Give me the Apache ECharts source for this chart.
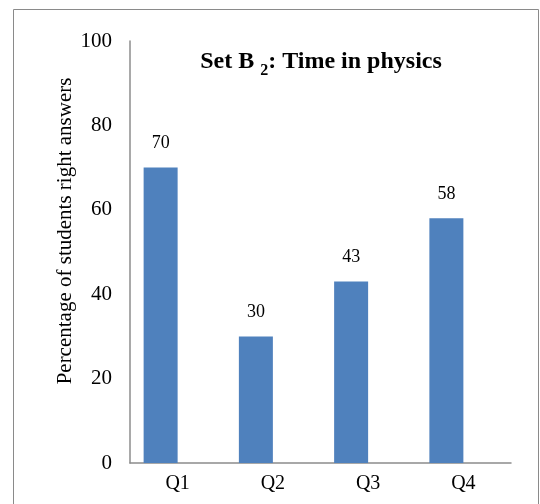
<!DOCTYPE html>
<html><head><meta charset="utf-8">
<script src="https://cdn.jsdelivr.net/npm/echarts@6/dist/echarts.min.js"></script>
<style>html,body{margin:0;padding:0;background:#fff}#c{width:540px;height:504px}</style>
</head><body><div id="c"></div>
<script>
const categories = ['Q1', 'Q2', 'Q3', 'Q4'];
const values = [70, 30, 43, 58];
const ghost = ['-', '-', '-', '-'];
const yTicks = [0, 20, 40, 60, 80, 100];
const titleMain = 'Set B ';
const titleSub = '2';
const titleRest = ': Time in physics';
const yName = 'Percentage of students right answers';

const chart = echarts.init(document.getElementById('c'), null, {renderer: 'canvas'});
const serif = '"Liberation Serif", "Times New Roman", serif';
chart.setOption({
  animation: false,
  backgroundColor: '#fff',
  graphic: [{
    type: 'rect', shape: {x: 13.5, y: 9.5, width: 525, height: 520},
    style: {fill: 'none', stroke: '#8a8a8a', lineWidth: 1}
  }],
  title: {
    text: '{a|' + titleMain + '}{s|' + titleSub + '}{a|' + titleRest + '}',
    left: 316, top: 41, textAlign: 'center',
    textStyle: {
      rich: {
        a: {fontFamily: serif, fontWeight: 'bold', fontSize: 24, color: '#000', lineHeight: 28, verticalAlign: 'bottom'},
        s: {fontFamily: serif, fontWeight: 'bold', fontSize: 16, color: '#000', lineHeight: 28, verticalAlign: 'bottom', padding: [0, 0, -5, 0]}
      }
    }
  },
  grid: {left: 130, right: 29, top: 41, bottom: 41, containLabel: false},
  xAxis: {
    type: 'category', data: categories,
    axisLine: {lineStyle: {color: '#8c8c8c', width: 1.5}},
    axisTick: {show: false},
    axisLabel: {fontFamily: serif, fontSize: 20, color: '#000', margin: 11}
  },
  yAxis: {
    type: 'value', min: 0, max: 100, interval: 20,
    name: yName, nameLocation: 'middle', nameGap: 54, nameMoveOverlap: false,
    nameTextStyle: {fontFamily: serif, fontSize: 21, color: '#000', padding: [0, 0, 0, 42]},
    axisLine: {show: true, lineStyle: {color: '#8c8c8c', width: 1.5}},
    axisTick: {show: false},
    splitLine: {show: false},
    axisLabel: {fontFamily: serif, fontSize: 21, color: '#000', margin: 18,
      formatter: v => yTicks.includes(v) ? String(v) : ''}
  },
  series: [{
    type: 'bar', data: values, barWidth: 34, barGap: '0%',
    itemStyle: {color: '#4f81bd'},
    label: {show: true, position: 'top', distance: 15, fontFamily: serif, fontSize: 18, color: '#000'}
  }, {
    type: 'bar', data: ghost, barWidth: 34, barGap: '0%'
  }]
});
</script></body></html>
